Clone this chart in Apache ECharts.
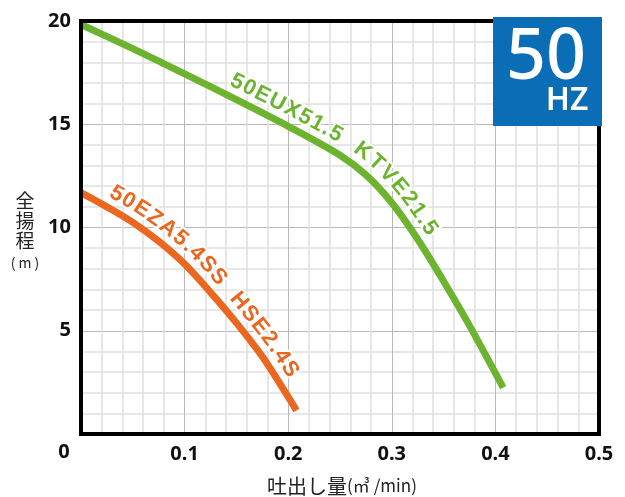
<!DOCTYPE html>
<html><head><meta charset="utf-8">
<script src="https://cdn.jsdelivr.net/npm/echarts@6/dist/echarts.min.js"></script>
<style>html,body{margin:0;padding:0;background:#fff}#c{width:625px;height:497px}</style>
</head><body><div id="c"></div>
<script>
// ---- data ----
const greenFlow = [0, 0.05, 0.1, 0.15, 0.2, 0.25, 0.275, 0.3, 0.325, 0.35, 0.375, 0.4075];
const greenHead = [19.83, 18.66, 17.44, 16.19, 14.9, 13.5, 12.55, 11.2, 9.43, 7.4, 5.25, 2.25];
const orangeFlow = [0, 0.025, 0.05, 0.075, 0.1, 0.125, 0.15, 0.175, 0.2, 0.208];
const orangeHead = [11.69, 11.0, 10.25, 9.33, 8.23, 6.86, 5.38, 3.75, 1.8, 1.14];
const greenLabel = '50EUX51.5  KTVE21.5';
const orangeLabel = '50EZA5.4SS  HSE2.4S';
const xTickLabels = ['0', '0.1', '0.2', '0.3', '0.4', '0.5'];
const yTickLabels = ['0', '5', '10', '15', '20'];

const GREEN = '#6cb42f', ORANGE = '#eb661f';
const chart = echarts.init(document.getElementById('c'));
const pairs = (xs, ys) => xs.map((x, i) => [x, ys[i]]);
const tickFont = {fontFamily: '"Noto Sans", sans-serif', fontWeight: 'bold', fontSize: 20, color: '#111'};

chart.setOption({
  animation: false,
  grid: {left: 81, right: 26, top: 21, bottom: 63, show: true, borderColor: '#000', borderWidth: 4, z: 5},
  xAxis: {
    type: 'value', min: 0, max: 0.5, interval: 0.1,
    axisLine: {show: false}, axisTick: {show: false},
    axisLabel: Object.assign({margin: 10, showMinLabel: false,
      formatter: v => xTickLabels[Math.round(v * 10)]}, tickFont),
    splitLine: {show: true, lineStyle: {color: '#b8b8b8', width: 1}},
    minorTick: {show: false, splitNumber: 5},
    minorSplitLine: {show: true, lineStyle: {color: '#e0e0e0', width: 1.5}}
  },
  yAxis: {
    type: 'value', min: 0, max: 20, interval: 5,
    axisLine: {show: false}, axisTick: {show: false},
    axisLabel: Object.assign({margin: 10, showMinLabel: false,
      formatter: v => yTickLabels[Math.round(v / 5)]}, tickFont),
    splitLine: {show: true, lineStyle: {color: '#b8b8b8', width: 1}},
    minorTick: {show: false, splitNumber: 5},
    minorSplitLine: {show: true, lineStyle: {color: '#e0e0e0', width: 1.5}}
  },
  series: [
    {type: 'line', data: pairs(greenFlow, greenHead), smooth: 0.3, symbol: 'none',
     lineStyle: {color: GREEN, width: 7}, z: 3},
    {type: 'line', data: pairs(orangeFlow, orangeHead), smooth: 0.3, symbol: 'none',
     lineStyle: {color: ORANGE, width: 7}, z: 3}
  ]
});

function curvePixels(xs, ys) {
  const pts = xs.map((x, i) => chart.convertToPixel({gridIndex: 0}, [x, ys[i]]));
  const out = [];
  for (let i = 0; i < pts.length - 1; i++) {
    const p0 = pts[Math.max(i - 1, 0)], p1 = pts[i], p2 = pts[i + 1], p3 = pts[Math.min(i + 2, pts.length - 1)];
    for (let k = 0; k < 30; k++) {
      const t = k / 30, t2 = t * t, t3 = t2 * t;
      const f = (a, b, c, d) => 0.5 * (2 * b + (-a + c) * t + (2 * a - 5 * b + 4 * c - d) * t2 + (-a + 3 * b - 3 * c + d) * t3);
      out.push([f(p0[0], p1[0], p2[0], p3[0]), f(p0[1], p1[1], p2[1], p3[1])]);
    }
  }
  out.push(pts[pts.length - 1]);
  return out;
}

function textAlong(xs, ys, str, startPx, offset, color, font, spacing) {
  const pts = curvePixels(xs, ys);
  const cum = [0];
  for (let i = 1; i < pts.length; i++) cum.push(cum[i - 1] + Math.hypot(pts[i][0] - pts[i - 1][0], pts[i][1] - pts[i - 1][1]));
  let i0 = pts.findIndex(p => p[0] >= startPx);
  let s = cum[Math.max(i0, 0)];
  function pos(v) {
    let j = 1;
    while (j < pts.length - 1 && cum[j] < v) j++;
    const a = pts[j - 1], b = pts[j];
    const seg = cum[j] - cum[j - 1] || 1;
    const r = (v - cum[j - 1]) / seg;
    return [a[0] + (b[0] - a[0]) * r, a[1] + (b[1] - a[1]) * r];
  }
  function at(sc) {
    const p = pos(sc), pa = pos(sc - 6), pb = pos(sc + 6);
    const dx = pb[0] - pa[0], dy = pb[1] - pa[1], L = Math.hypot(dx, dy) || 1;
    return {p, t: [dx / L, dy / L]};
  }
  const ctx = document.createElement('canvas').getContext('2d');
  ctx.font = font;
  const els = [];
  for (const ch of str) {
    const w = ctx.measureText(ch).width;
    if (ch !== ' ') {
      const {p, t} = at(s + w / 2);
      els.push({type: 'text', x: p[0] + t[1] * offset, y: p[1] - t[0] * offset,
        rotation: -Math.atan2(t[1], t[0]), z: 50,
        style: {text: ch, fill: color, font: font, stroke: '#fff', lineWidth: 4,
          align: 'center', verticalAlign: 'middle'}});
    }
    s += w + spacing;
  }
  return els;
}

const labelFont = 'bold 22px "Liberation Sans", Arial, sans-serif';
const cjk = '"Noto Sans CJK JP", sans-serif';
const graphics = [].concat(
  textAlong(greenFlow, greenHead, greenLabel, 224, 16, GREEN, labelFont, 1.3),
  textAlong(orangeFlow, orangeHead, orangeLabel, 103, 16, ORANGE, labelFont, 1.3),
  [
    {type: 'rect', shape: {x: 493, y: 17, width: 109, height: 109}, style: {fill: '#0a6db6'}, z: 60},
    {type: 'text', x: 546, y: 59, z: 61, style: {text: '50', fill: '#fff', font: '500 70px "Noto Sans", sans-serif', align: 'center', verticalAlign: 'middle'}},
    {type: 'text', x: 567, y: 101, z: 61, style: {text: 'HZ', fill: '#fff', font: '600 32px "Noto Sans", sans-serif', align: 'center', verticalAlign: 'middle'}},
    {type: 'text', x: 64, y: 452, z: 61, style: {text: xTickLabels[0], fill: '#111', font: 'bold 20px "Noto Sans", sans-serif', align: 'center', verticalAlign: 'middle'}},
    {type: 'text', x: 25, y: 201, style: {text: '全', fill: '#222', font: '19px ' + cjk, align: 'center', verticalAlign: 'middle'}},
    {type: 'text', x: 25, y: 221, style: {text: '揚', fill: '#222', font: '19px ' + cjk, align: 'center', verticalAlign: 'middle'}},
    {type: 'text', x: 25, y: 241, style: {text: '程', fill: '#222', font: '19px ' + cjk, align: 'center', verticalAlign: 'middle'}},
    {type: 'text', x: 25, y: 263, style: {text: '( m )', fill: '#222', font: '14px ' + cjk, align: 'center', verticalAlign: 'middle'}},
    {type: 'text', x: 342, y: 486, style: {text: '{a|吐出し量}{b|(㎥ /min)}', fill: '#222', align: 'center', verticalAlign: 'middle',
      rich: {a: {font: '20px ' + cjk, fill: '#222'}, b: {font: '17px ' + cjk, fill: '#222'}}}}
  ]
);
chart.setOption({graphic: graphics});
</script></body></html>
